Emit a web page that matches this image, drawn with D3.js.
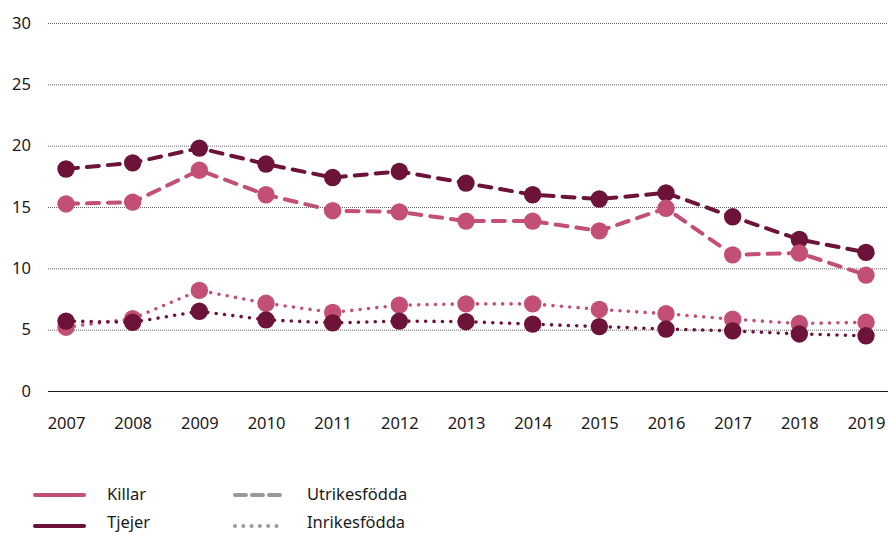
<!DOCTYPE html>
<html>
<head>
<meta charset="utf-8">
<script src="https://cdn.jsdelivr.net/npm/d3@7"></script>
<style>
  body { margin: 0; background: #fff; }
  text { font-family: "Noto Sans", "Open Sans", sans-serif; fill: #1a1a1a; }
</style>
</head>
<body>
<div id="chart"></div>
<script>
const years = [2007, 2008, 2009, 2010, 2011, 2012, 2013, 2014, 2015, 2016, 2017, 2018, 2019];
const yTicks = [0, 5, 10, 15, 20, 25, 30];

const tjejerUtrikes = [18.1, 18.6, 19.8, 18.5, 17.4, 17.9, 16.95, 16.0, 15.65, 16.15, 14.2, 12.35, 11.3];
const killarUtrikes = [15.25, 15.4, 18.0, 16.0, 14.7, 14.6, 13.85, 13.85, 13.05, 14.9, 11.1, 11.25, 9.45];
const killarInrikes = [5.2, 5.9, 8.2, 7.15, 6.4, 7.0, 7.1, 7.1, 6.65, 6.3, 5.85, 5.5, 5.6];
const tjejerInrikes = [5.7, 5.6, 6.5, 5.8, 5.55, 5.7, 5.65, 5.45, 5.25, 5.05, 4.9, 4.65, 4.5];

const pink = "#c34f75";
const dark = "#6d1239";

const width = 888, height = 535;
const svg = d3.select("#chart").append("svg")
  .attr("width", width)
  .attr("height", height);

const x = d3.scalePoint()
  .domain(years)
  .range([66, 866]);

const y = d3.scaleLinear()
  .domain([0, 30])
  .range([391, 23]);

// grid lines + y labels
const yAxis = svg.append("g")
  .attr("transform", "translate(48,0)")
  .call(d3.axisLeft(y).tickValues(yTicks).tickSize(-(width - 48)));
yAxis.select(".domain").remove();
yAxis.selectAll(".tick line")
  .attr("stroke", d => d === 0 ? "#1a1a1a" : "#666")
  .attr("stroke-width", 1)
  .attr("stroke-dasharray", d => d === 0 ? null : "1 1");
yAxis.selectAll(".tick text")
  .attr("font-size", 16.5)
  .attr("fill", "#1a1a1a")
  .attr("x", -17);

// x labels
const xAxis = svg.append("g")
  .attr("transform", "translate(0,391)")
  .call(d3.axisBottom(x).tickSize(0).tickPadding(26));
xAxis.select(".domain").remove();
xAxis.selectAll(".tick text")
  .attr("font-size", 16.5)
  .attr("fill", "#1a1a1a");

const line = d3.line()
  .x((d, i) => x(years[i]))
  .y(d => y(d));

const series = [
  { values: tjejerUtrikes, color: dark, dash: "12 9" },
  { values: killarUtrikes, color: pink, dash: "12 9" },
  { values: killarInrikes, color: pink, dash: "0 8.4" },
  { values: tjejerInrikes, color: dark, dash: "0 8.4" }
];

series.forEach(s => {
  const g = svg.append("g");
  g.append("path")
    .datum(s.values)
    .attr("d", line)
    .attr("fill", "none")
    .attr("stroke", s.color)
    .attr("stroke-width", s.dash === "0 8.4" ? 3.6 : 4)
    .attr("stroke-linecap", "round")
    .attr("stroke-dasharray", s.dash);
  g.selectAll("circle")
    .data(s.values)
    .enter()
    .append("circle")
    .attr("cx", (d, i) => x(years[i]))
    .attr("cy", d => y(d))
    .attr("r", 8.7)
    .attr("fill", s.color);
});

// legend
const legend = svg.append("g");
const legendItems = [
  { label: "Killar", color: pink, dash: null, lx: 35, ly: 495, ty: 494 },
  { label: "Tjejer", color: dark, dash: null, lx: 35, ly: 526, ty: 522 },
  { label: "Utrikesfödda", color: "#999", dash: "11 6", lx: 235, ly: 495, ty: 494 },
  { label: "Inrikesfödda", color: "#999", dash: "0 8.3", lx: 235, ly: 526, ty: 522 }
];
legendItems.forEach(it => {
  legend.append("line")
    .attr("x1", it.lx).attr("x2", it.lx + 49)
    .attr("y1", it.ly).attr("y2", it.ly)
    .attr("stroke", it.color)
    .attr("stroke-width", 4)
    .attr("stroke-linecap", "round")
    .attr("stroke-dasharray", it.dash);
  legend.append("text")
    .attr("x", it.lx + 72)
    .attr("y", it.ty)
    .attr("dy", "0.35em")
    .attr("font-size", 16.5)
    .text(it.label);
});
</script>
</body>
</html>
